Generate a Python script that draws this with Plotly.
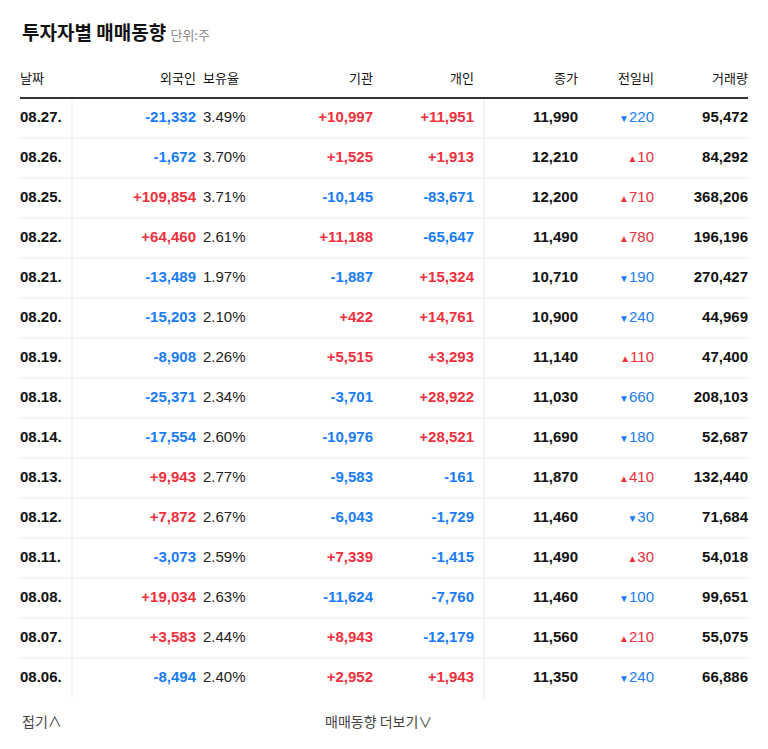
import plotly.graph_objects as go

dates = ["08.27.", "08.26.", "08.25.", "08.22.", "08.21.", "08.20.", "08.19.", "08.18.",
         "08.14.", "08.13.", "08.12.", "08.11.", "08.08.", "08.07.", "08.06."]
foreign = [-21332, -1672, 109854, 64460, -13489, -15203, -8908, -25371,
           -17554, 9943, 7872, -3073, 19034, 3583, -8494]
holding = [3.49, 3.70, 3.71, 2.61, 1.97, 2.10, 2.26, 2.34, 2.60, 2.77, 2.67, 2.59, 2.63, 2.44, 2.40]
institution = [10997, 1525, -10145, 11188, -1887, 422, 5515, -3701,
               -10976, -9583, -6043, 7339, -11624, 8943, 2952]
individual = [11951, 1913, -83671, -65647, 15324, 14761, 3293, 28922,
              28521, -161, -1729, -1415, -7760, -12179, 1943]
close = [11990, 12210, 12200, 11490, 10710, 10900, 11140, 11030,
         11690, 11870, 11460, 11490, 11460, 11560, 11350]
change = [-220, 10, 710, 780, -190, -240, 110, -660, -180, 410, -30, 30, -100, 210, -240]
volume = [95472, 84292, 368206, 196196, 270427, 44969, 47400, 208103,
          52687, 132440, 71684, 54018, 99651, 55075, 66886]
headers = ["날짜", "외국인", "보유율", "기관", "개인", "종가", "전일비", "거래량"]

RED = "#f0303c"
BLUE = "#1a7cf5"
DARK = "#111111"
FONT = "Liberation Sans, Noto Sans CJK KR"
KFONT = "Noto Sans CJK KR"

row_y = [118 + 40 * i for i in range(len(dates))]


def signed(v):
    return f"+{v:,}" if v > 0 else f"{v:,}"


def color(v):
    return RED if v > 0 else BLUE


fig = go.Figure()


def column(x, texts, colors, pos, bold=True):
    fig.add_trace(go.Scatter(
        x=[x] * len(texts), y=row_y, mode="text",
        text=[f"<b>{t}</b>" if bold else t for t in texts],
        textposition=pos,
        textfont=dict(family=FONT, size=15, color=colors),
        hoverinfo="skip", showlegend=False,
    ))


column(20, dates, [DARK] * len(dates), "middle right")
column(196, [signed(v) for v in foreign], [color(v) for v in foreign], "middle left")
column(203, [f"{v:.2f}%" for v in holding], ["#222222"] * len(holding), "middle right", bold=False)
column(373, [signed(v) for v in institution], [color(v) for v in institution], "middle left")
column(474, [signed(v) for v in individual], [color(v) for v in individual], "middle left")
column(578, [f"{v:,}" for v in close], [DARK] * len(close), "middle left")
column(654, [("<span style='font-size:10px'>▲</span>" if v > 0 else "<span style='font-size:10px'>▼</span>") + f"{abs(v):,}"
             for v in change], [color(v) for v in change], "middle left", bold=False)
column(748, [f"{v:,}" for v in volume], [DARK] * len(volume), "middle left")

# header row
header_x = [20, 196, 203, 373, 474, 578, 654, 748]
header_pos = ["middle right", "middle left", "middle right", "middle left",
              "middle left", "middle left", "middle left", "middle left"]
for hx, h, p in zip(header_x, headers, header_pos):
    fig.add_trace(go.Scatter(x=[hx], y=[80], mode="text", text=[h], textposition=p,
                             textfont=dict(family=KFONT, size=13, color=DARK),
                             hoverinfo="skip", showlegend=False))

# lines
fig.add_shape(type="line", x0=20, x1=748, y0=98, y1=98, line=dict(color="#333333", width=2))
for y in row_y[:-1]:
    fig.add_shape(type="line", x0=20, x1=748, y0=y + 20, y1=y + 20, line=dict(color="#ebebeb", width=1))
for vx in [72, 484]:
    fig.add_shape(type="line", x0=vx, x1=vx, y0=99, y1=row_y[-1] + 20, line=dict(color="#ebebeb", width=1))

fig.add_annotation(x=20, y=31, xanchor="left", yanchor="middle", showarrow=False,
                   text="<b>투자자별 매매동향</b> <span style='font-size:13px;color:#888888'>단위:주</span>",
                   font=dict(family=KFONT, size=19, color=DARK))
fig.add_annotation(x=20, y=721, xanchor="left", yanchor="middle", showarrow=False,
                   text="접기∧", font=dict(family=KFONT, size=14, color="#444444"))
fig.add_annotation(x=323, y=721, xanchor="left", yanchor="middle", showarrow=False,
                   text="매매동향 더보기∨", font=dict(family=KFONT, size=14, color="#444444"))

# page body adds an 8px offset; shift the ranges to compensate
fig.update_layout(
    width=768, height=749, margin=dict(l=0, r=0, t=0, b=0),
    paper_bgcolor="white", plot_bgcolor="white",
    xaxis=dict(range=[8, 776], visible=False, fixedrange=True),
    yaxis=dict(range=[757, 8], visible=False, fixedrange=True),
)
fig.write_html("out.html")
